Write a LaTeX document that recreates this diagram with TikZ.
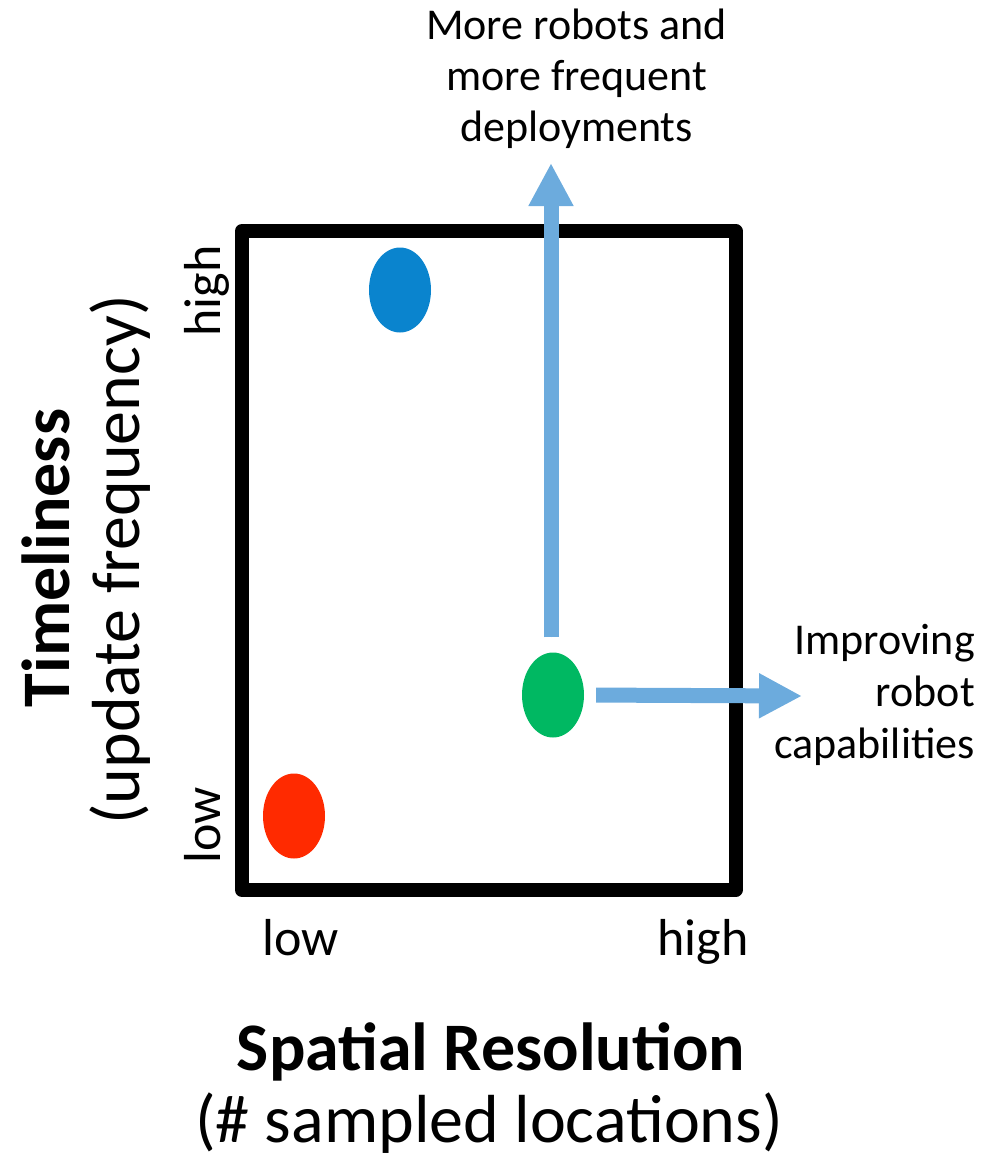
\documentclass[tikz,border=0pt]{standalone}
\usepackage{fontspec}
\setmainfont{Carlito}
\usetikzlibrary{shapes.geometric,arrows.meta}
\definecolor{dotblue}{HTML}{0A84CE}
\definecolor{dotred}{HTML}{FF2A00}
\definecolor{dotgreen}{HTML}{00B862}
\definecolor{arrowblue}{HTML}{6CABDD}
\begin{document}
\begin{tikzpicture}[x=1pt,y=-1pt,
  dot/.style={ellipse,inner sep=0pt,minimum width=62pt,minimum height=85pt,draw=none},
  bigarrow/.style={draw=arrowblue,line width=15pt,-{Triangle[width=42pt,length=43pt]},fill=arrowblue},
  lbl/.style={inner sep=0pt,font=\fontsize{44}{51}\selectfont},
  ticklbl/.style={inner sep=0pt,font=\fontsize{52}{60}\selectfont},
  axisbold/.style={inner sep=0pt,font=\fontsize{68}{80}\selectfont\bfseries},
  axisreg/.style={inner sep=0pt,font=\fontsize{68}{80}\selectfont}]
\useasboundingbox (0,0) rectangle (997,1160);
% frame
\draw[line width=14pt,line join=round] (242,231) rectangle (735.5,890);
% dots
\node[dot,fill=dotblue] (blue) at (400,290) {};
\node[dot,fill=dotred] (red) at (294,816) {};
\node[dot,fill=dotgreen] (green) at (553,695) {};
% arrow ends
\coordinate (uptip) at (551,163);
\coordinate (righttip) at (802,696);
\draw[bigarrow,shorten <=15pt] (green.north -| uptip) -- (uptip);
\draw[bigarrow,shorten <=12pt] (green.east) -- (righttip);
% arrow labels
\node[lbl,align=center,anchor=base] (uplbl) at (576.5,141) {More robots and\\more frequent\\deployments};
\node[lbl,align=right,anchor=base east,font=\fontsize{44}{52}\selectfont] (rightlbl) at (975,758) {Improving\\robot\\capabilities};
% tick labels
\node[ticklbl,anchor=base] (xlow) at (301,955) {low};
\node[ticklbl,anchor=base] (xhigh) at (703,955) {high};
\node[ticklbl,anchor=base,rotate=90] (ylow) at (220,825) {low};
\node[ticklbl,anchor=base,rotate=90] (yhigh) at (220,291) {high};
% axis titles
\node[axisbold,anchor=base] (xtitle) at (491,1070) {Spatial Resolution};
\node[axisreg,anchor=base] (xsub) at (489,1142) {(\# sampled locations)};
\node[axisbold,anchor=base,rotate=90] (ytitle) at (69,558) {Timeliness};
\node[axisreg,anchor=base,rotate=90] (ysub) at (139,560) {(update frequency)};
\end{tikzpicture}
\end{document}
